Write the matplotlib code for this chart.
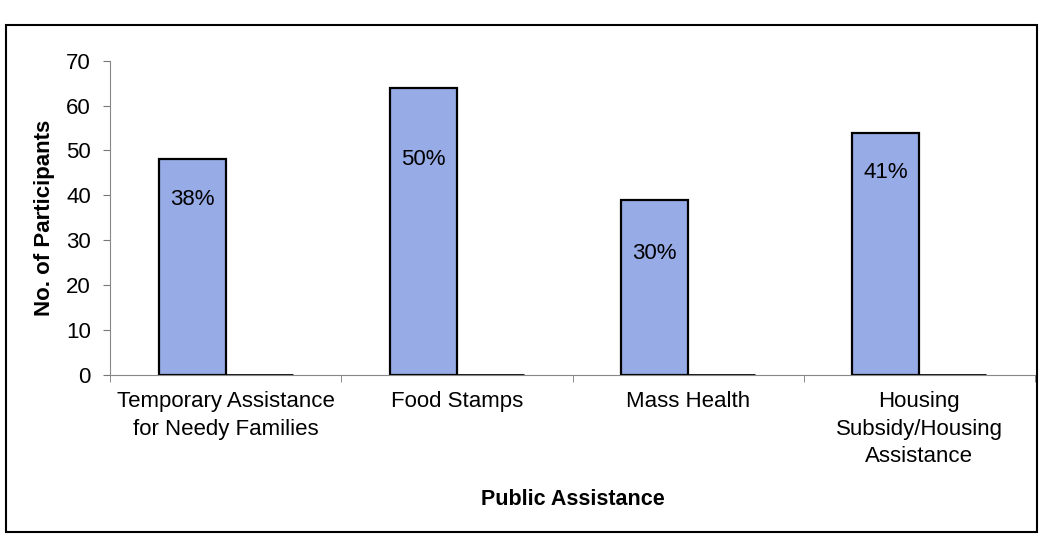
import matplotlib
matplotlib.use("Agg")
import matplotlib.pyplot as plt
from matplotlib.patches import Rectangle
import numpy as np

plt.rcParams['font.family'] = ['Liberation Sans', 'DejaVu Sans']

# data
categories = ["Temporary Assistance\nfor Needy Families", "Food Stamps",
              "Mass Health", "Housing\nSubsidy/Housing\nAssistance"]
participants = [48, 64, 39, 54]
other_series = [0, 0, 0, 0]
pct_labels = ["38%", "50%", "30%", "41%"]
# how far below the bar top each percentage sits (data units)
label_drop = [9, 16, 12, 9]

bar_color = "#97ABE6"
fs = 16

fig = plt.figure(figsize=(10.41, 5.43), dpi=100)
ax = fig.add_axes([0.106, 0.31, 0.888, 0.578])

x = np.arange(len(categories))
w = 0.29
ax.bar(x - w / 2, participants, width=w, color=bar_color,
       edgecolor="black", linewidth=1.6)
ax.bar(x + w / 2, other_series, width=w, color="black",
       edgecolor="black", linewidth=2)

for xi, v, lab, d in zip(x, participants, pct_labels, label_drop):
    ax.text(xi - w / 2, v - d, lab, ha="center", va="center", fontsize=fs)

ax.set_xlim(-0.5, len(categories) - 0.5)
ax.set_ylim(0, 70)
ax.set_yticks(np.arange(0, 71, 10))
ax.set_xticks(x)
ax.set_xticklabels(categories, fontsize=fs, linespacing=1.4)
ax.set_xticks(np.arange(-0.5, len(categories), 1), minor=True)
ax.tick_params(axis="x", which="major", length=0, pad=12)
ax.tick_params(axis="x", which="minor", length=5, color="#777777", direction="out")
ax.tick_params(axis="y", length=5, color="#777777", labelsize=fs, pad=9)

for s in ["top", "right"]:
    ax.spines[s].set_visible(False)
ax.spines["left"].set_color("#888888")
ax.spines["bottom"].set_color("#888888")

ax.set_ylabel("No. of Participants", fontsize=fs, fontweight="bold", labelpad=8)
ax.set_xlabel("Public Assistance", fontsize=15.5, fontweight="bold", labelpad=16)

# outer chart frame
fig.patches.append(Rectangle((6 / 1041, 1 - 532 / 543), 1031 / 1041, 507 / 543,
                             transform=fig.transFigure, fill=False,
                             edgecolor="black", linewidth=1.5))

fig.savefig("out.png", dpi=100)
